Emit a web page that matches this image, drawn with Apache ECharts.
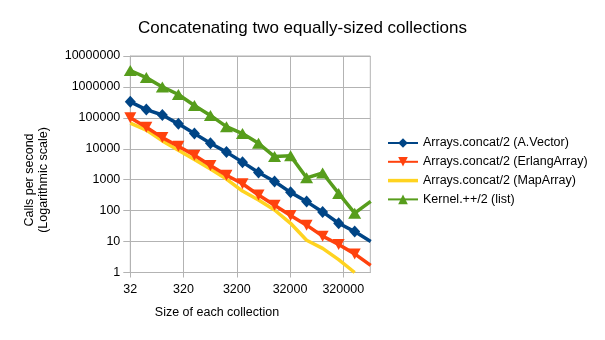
<!DOCTYPE html>
<html>
<head>
<meta charset="utf-8">
<script src="https://cdn.jsdelivr.net/npm/echarts@6/dist/echarts.min.js"></script>
<style>html,body{margin:0;padding:0;background:#fff}#c{width:605px;height:340px}</style>
</head>
<body>
<div id="c"></div>
<script>
// Collection sizes (32 * 2^i)
var sizes = [32, 64, 128, 256, 512, 1024, 2048, 4096, 8192, 16384, 32768, 65536, 131072, 262144, 524288, 1048576];
var aVector = [330000, 185000, 124000, 64000, 31000, 15000, 7800, 3700, 1700, 880, 390, 196, 91, 39, 21, 10];
var erlangArray = [100000, 50000, 23000, 12000, 6200, 2900, 1400, 740, 320, 150, 70, 34, 15, 8, 4, 1.7];
var mapArray = [68000, 40000, 18000, 9000, 4500, 2200, 1050, 430, 220, 105, 39, 11, 6, 2.6, 1.0, null];
var kernelList = [3400000, 2000000, 1000000, 570000, 250000, 120000, 52000, 31000, 15000, 5600, 5900, 1150, 1650, 360, 83, 200];
var xTicks = [32, 320, 3200, 32000, 320000];
var yTicks = [1, 10, 100, 1000, 10000, 100000, 1000000, 10000000];
var seriesNames = ['Arrays.concat/2 (A.Vector)', 'Arrays.concat/2 (ErlangArray)', 'Arrays.concat/2 (MapArray)', 'Kernel.++/2 (list)'];

function pairs(vals) {
  return sizes.map(function (s, i) { return [s, vals[i]]; });
}

var chart = echarts.init(document.getElementById('c'), null, {renderer: 'canvas'});
var gridColor = '#b3b3b3';
var font = 'Liberation Sans, Arial, sans-serif';
chart.setOption({
  animation: false,
  backgroundColor: '#fff',
  title: {
    text: 'Concatenating two equally-sized collections',
    left: 'center',
    top: 15,
    textStyle: {fontFamily: font, fontSize: 17, fontWeight: 'normal', color: '#000'}
  },
  legend: {
    orient: 'vertical',
    left: 382,
    top: 131.5,
    itemWidth: 30,
    itemHeight: 12,
    itemGap: 5.8,
    textStyle: {fontFamily: font, fontSize: 12.5, color: '#000'},
    data: [
      {name: seriesNames[0]},
      {name: seriesNames[1]},
      {name: seriesNames[2], icon: 'path://M0,0h30v3.5h-30z'},
      {name: seriesNames[3]}
    ]
  },
  grid: {
    left: 130.3, right: 234.7, top: 56, bottom: 67.5,
    show: true, borderColor: gridColor, borderWidth: 1
  },
  xAxis: {
    type: 'log', logBase: 10, min: 32, max: 1030000,
    axisLine: {show: true, lineStyle: {color: gridColor}},
    axisTick: {show: true, length: 5, lineStyle: {color: gridColor}, customValues: xTicks},
    axisLabel: {customValues: xTicks, fontFamily: font, fontSize: 12.5, color: '#000', margin: 11,
      formatter: function (v) { return String(Math.round(v)); }},
    splitLine: {show: true, lineStyle: {color: gridColor}},
    minorTick: {show: false}, minorSplitLine: {show: false}
  },
  yAxis: {
    type: 'log', logBase: 10, min: 1, max: 10000000,
    axisLine: {show: true, lineStyle: {color: gridColor}},
    axisTick: {show: true, length: 7, lineStyle: {color: gridColor}, customValues: yTicks},
    axisLabel: {customValues: yTicks, fontFamily: font, fontSize: 12.5, color: '#000', margin: 10,
      formatter: function (v) { return String(Math.round(v)); }},
    splitLine: {show: true, lineStyle: {color: gridColor}}
  },
  graphic: [
    {type: 'text', x: 36.5, y: 180, rotation: Math.PI / 2,
      style: {text: 'Calls per second\n(Logarithmic scale)', fontFamily: font, fontSize: 12.5, fill: '#000',
        align: 'center', verticalAlign: 'middle', lineHeight: 14}},
    {type: 'text', x: 217, y: 313,
      style: {text: 'Size of each collection', fontFamily: font, fontSize: 12.5, fill: '#000',
        align: 'center', verticalAlign: 'middle'}}
  ],
  series: [
    {name: seriesNames[0], type: 'line', data: pairs(aVector), clip: true,
      symbol: 'diamond', symbolSize: [11, 12], color: '#004586',
      lineStyle: {width: 3.5, color: '#004586'}, itemStyle: {color: '#004586'}, z: 4},
    {name: seriesNames[1], type: 'line', data: pairs(erlangArray), clip: true,
      symbol: 'triangle', symbolRotate: 180, symbolSize: [12, 11], color: '#ff420e',
      lineStyle: {width: 3.5, color: '#ff420e'}, itemStyle: {color: '#ff420e'}, z: 3},
    {name: seriesNames[2], type: 'line', data: pairs(mapArray), clip: true,
      symbol: 'none', showSymbol: false, color: '#ffd320', connectNulls: false,
      lineStyle: {width: 3.5, color: '#ffd320'}, itemStyle: {color: '#ffd320'}, z: 2},
    {name: seriesNames[3], type: 'line', data: pairs(kernelList), clip: true,
      symbol: 'triangle', symbolSize: [13, 11], color: '#579d1c',
      lineStyle: {width: 3.5, color: '#579d1c'}, itemStyle: {color: '#579d1c'}, z: 5}
  ]
});
</script>
</body>
</html>
